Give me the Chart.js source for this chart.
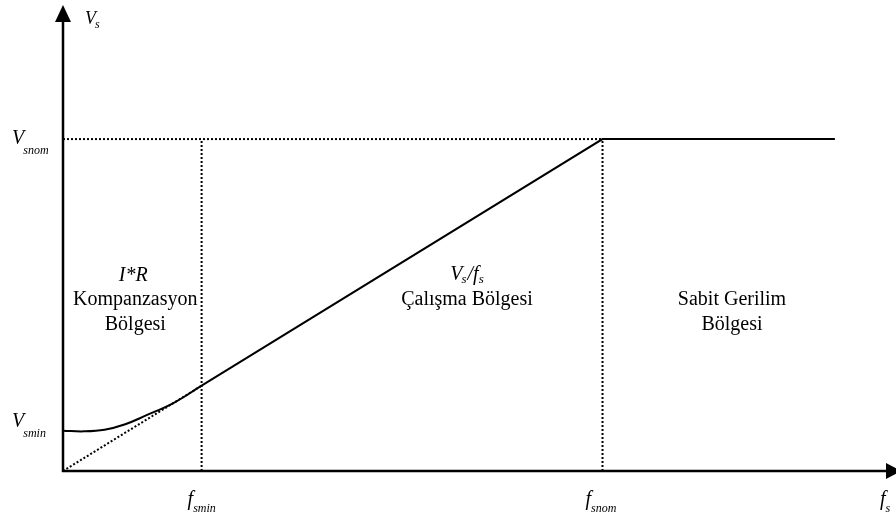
<!DOCTYPE html>
<html>
<head>
<meta charset="utf-8">
<script src="https://cdn.jsdelivr.net/npm/chart.js@4.4.0/dist/chart.umd.min.js"></script>
<style>
  html, body { margin: 0; padding: 0; background: #ffffff; }
  #wrap { width: 896px; height: 520px; position: relative; }
</style>
</head>
<body>
<div id="wrap"><canvas id="c" width="896" height="520"></canvas></div>
<script>
// ---- data (arbitrary units) ----
const fsmin = 16.7;
const fsnom = 65;
const fEnd = 93;
const Vsnom = 72;
const Vsmin = 8.74;

// I*R compensated low-frequency curve
const curveF = [0, 2.5, 5, 7.5, 10, 13.3, 16.7];
const curveV = [8.74, 8.6, 8.95, 10.15, 12.05, 14.74, 18.5];

// V/f linear region and constant voltage region
const linF = [16.7, 65, 93];
const linV = [18.5, 72, 72];

// dotted guide lines
const diagF = [0, 16.7];
const diagV = [0, 18.5];

// axis/tick labels
const xTickLabels = [['f', 'smin'], ['f', 'snom'], ['f', 's']];
const yTickLabels = [['V', 'snom'], ['V', 'smin'], ['V', 's']];

// region labels
const regionLeft = ['I*R', 'Kompanzasyon', 'Bölgesi'];
const regionMid = ['Vs/fs', 'Çalışma Bölgesi'];
const regionRight = ['Sabit Gerilim', 'Bölgesi'];

const pts = (xs, ys) => xs.map((x, i) => ({ x: x, y: ys[i] }));

const dotted = {
  borderColor: '#000', borderWidth: 2, borderDash: [2, 2], pointRadius: 0,
  tension: 0, fill: false, clip: false
};

const SERIF = '"Liberation Serif", "Times New Roman", serif';

function subText(ctx, main, sub, x, y, size, subSize, subDx, subDy) {
  ctx.font = 'italic ' + size + 'px ' + SERIF;
  ctx.textAlign = 'left';
  ctx.textBaseline = 'alphabetic';
  ctx.fillText(main, x, y);
  const w = ctx.measureText(main).width;
  ctx.font = 'italic ' + subSize + 'px ' + SERIF;
  ctx.fillText(sub, x + w + subDx, y + subDy);
}

const overlay = {
  id: 'overlay',
  afterDatasetsDraw(chart) {
    const ctx = chart.ctx;
    const xs = chart.scales.x, ys = chart.scales.y;
    const x0 = xs.getPixelForValue(0), y0 = ys.getPixelForValue(0);
    const yTop = ys.getPixelForValue(ys.max);
    const xRight = xs.getPixelForValue(xs.max);
    ctx.save();
    ctx.fillStyle = '#000';
    ctx.strokeStyle = '#000';
    // axes
    ctx.lineWidth = 2.5;
    ctx.beginPath();
    ctx.moveTo(x0, y0 + 1);
    ctx.lineTo(x0, yTop + 10);
    ctx.moveTo(x0 - 1, y0);
    ctx.lineTo(xRight - 6, y0);
    ctx.stroke();
    // arrowheads
    ctx.beginPath();
    ctx.moveTo(x0, yTop - 5);
    ctx.lineTo(x0 - 8, yTop + 12);
    ctx.lineTo(x0 + 8, yTop + 12);
    ctx.closePath();
    ctx.fill();
    ctx.beginPath();
    ctx.moveTo(xRight + 8, y0);
    ctx.lineTo(xRight - 7, y0 - 8);
    ctx.lineTo(xRight - 7, y0 + 8);
    ctx.closePath();
    ctx.fill();

    // y labels
    const pSnom = ys.getPixelForValue(Vsnom);
    const pSmin = ys.getPixelForValue(Vsmin);
    subText(ctx, yTickLabels[0][0], yTickLabels[0][1], 12, pSnom + 5, 20, 12, -1, 10);
    subText(ctx, yTickLabels[1][0], yTickLabels[1][1], 12, pSmin - 4, 20, 12, -1, 10);
    subText(ctx, yTickLabels[2][0], yTickLabels[2][1], x0 + 22, yTop + 14, 18, 12, -1, 4);

    // x labels
    const pfmin = xs.getPixelForValue(fsmin);
    const pfnom = xs.getPixelForValue(fsnom);
    subText(ctx, xTickLabels[0][0], xTickLabels[0][1], pfmin - 14, y0 + 34, 20, 12, 0, 7);
    subText(ctx, xTickLabels[1][0], xTickLabels[1][1], pfnom - 17, y0 + 34, 20, 12, 0, 7);
    subText(ctx, xTickLabels[2][0], xTickLabels[2][1], xRight - 13, y0 + 34, 20, 12, 0, 7);

    // region texts
    ctx.textAlign = 'center';
    ctx.textBaseline = 'alphabetic';
    const cxL = (x0 + pfmin) / 2 + 3;
    ctx.font = 'italic 20px ' + SERIF;
    ctx.fillText(regionLeft[0], cxL - 2, 281);
    ctx.font = '20px ' + SERIF;
    ctx.fillText(regionLeft[1], cxL, 305);
    ctx.fillText(regionLeft[2], cxL, 330);

    const cxM = 467;
    // Vs/fs with subscripts
    ctx.font = 'italic 20px ' + SERIF;
    const wV = ctx.measureText('V').width;
    const wSl = ctx.measureText('/').width;
    const wF = ctx.measureText('f').width;
    ctx.font = 'italic 13px ' + SERIF;
    const wS = ctx.measureText('s').width;
    const total = wV + wS + wSl + wF + wS;
    let px = cxM - total / 2;
    ctx.textAlign = 'left';
    ctx.font = 'italic 20px ' + SERIF; ctx.fillText('V', px, 280); px += wV;
    ctx.font = 'italic 13px ' + SERIF; ctx.fillText('s', px - 1, 283); px += wS;
    ctx.font = 'italic 20px ' + SERIF; ctx.fillText('/', px, 280); px += wSl;
    ctx.font = 'italic 20px ' + SERIF; ctx.fillText('f', px, 280); px += wF;
    ctx.font = 'italic 13px ' + SERIF; ctx.fillText('s', px, 283);
    ctx.textAlign = 'center';
    ctx.font = '20px ' + SERIF;
    ctx.fillText(regionMid[1], cxM, 305);

    const cxR = 732;
    ctx.fillText(regionRight[0], cxR, 305);
    ctx.fillText(regionRight[1], cxR, 330);
    ctx.restore();
  }
};

new Chart(document.getElementById('c'), {
  type: 'scatter',
  data: {
    datasets: [
      Object.assign({ data: pts(diagF, diagV) }, dotted, { showLine: true }),
      Object.assign({ data: pts([0, fsnom], [Vsnom, Vsnom]) }, dotted, { showLine: true }),
      Object.assign({ data: pts([fsmin, fsmin], [0, Vsnom]) }, dotted, { showLine: true }),
      Object.assign({ data: pts([fsnom, fsnom], [0, Vsnom]) }, dotted, { showLine: true }),
      {
        data: pts(curveF, curveV), showLine: true, borderColor: '#000', borderWidth: 2,
        pointRadius: 0, tension: 0.4, clip: false
      },
      {
        data: pts(linF, linV), showLine: true, borderColor: '#000', borderWidth: 2,
        pointRadius: 0, tension: 0, clip: false
      }
    ]
  },
  options: {
    responsive: false,
    animation: false,
    devicePixelRatio: 1,
    layout: { padding: { left: 63, right: 3, top: 10, bottom: 49 } },
    plugins: { legend: { display: false }, tooltip: { enabled: false } },
    scales: {
      x: { type: 'linear', min: 0, max: 100, display: false },
      y: { type: 'linear', min: 0, max: 100, display: false }
    }
  },
  plugins: [overlay]
});
</script>
</body>
</html>
